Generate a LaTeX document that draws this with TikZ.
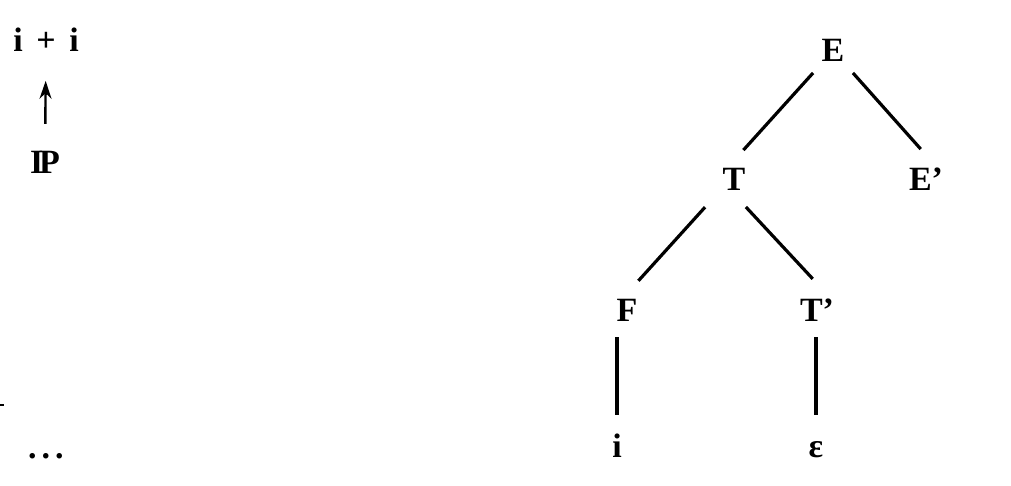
\documentclass[tikz,border=0pt]{standalone}
\usepackage{fontspec}
\setmainfont{Liberation Serif}
\usetikzlibrary{arrows.meta}
\begin{document}
\begin{tikzpicture}[x=0.5pt,y=-0.5pt,
        sym/.style={circle, inner sep=0pt, minimum size=30pt,
            text height=12pt, text depth=0pt, font=\fontsize{17}{20}\bfseries},
        txt/.style={font=\fontsize{17}{20}\bfseries},
        branch/.style={line width=1.6pt},
        stem/.style={line width=1.6pt, shorten <=14pt}]
        \useasboundingbox (0,0) rectangle (1011,486);

        % Input and pointer
        \node[txt] (input) at (46,40) {i\hspace{0.4em}+\hspace{0.4em}i};
        \node[txt] (ip) at (45,162) {I\kern-0.12em P};
        \draw[line width=1.2pt, -{Stealth[length=9pt, width=6pt]},
            shorten <=10pt, shorten >=11pt] (ip) -- (input);
        \node[txt] (dots) at (46,456) {.\kern2.5pt.\kern2.5pt.};
        \draw[line width=1pt] (0,405) -- (4,405);

        % Draw tree nodes
        \node[sym] (E)  at (833,50)  {E};
        \node[sym] (T)  at (734,179) {T};
        \node[sym] (Ep) at (926,179) {E'};
        \node[sym] (F)  at (627,309) {F};
        \node[sym] (Tp) at (817,309) {T'};
        \node[sym] (i)  at (617,445) {i};
        \node[sym] (eps) at (816,445) {ε};

        % Draw branches
        \draw[branch] (E.229) -- (T.72);
        \draw[branch] (E.311) -- (Ep.100);
        \draw[branch, shorten <=5pt] (T.223) -- (F.68);
        \draw[branch] (T.293) -- (Tp.98);
        \draw[stem] (F -| i) -- (i);
        \draw[stem] (Tp -| eps) -- (eps);
    \end{tikzpicture}
\end{document}
